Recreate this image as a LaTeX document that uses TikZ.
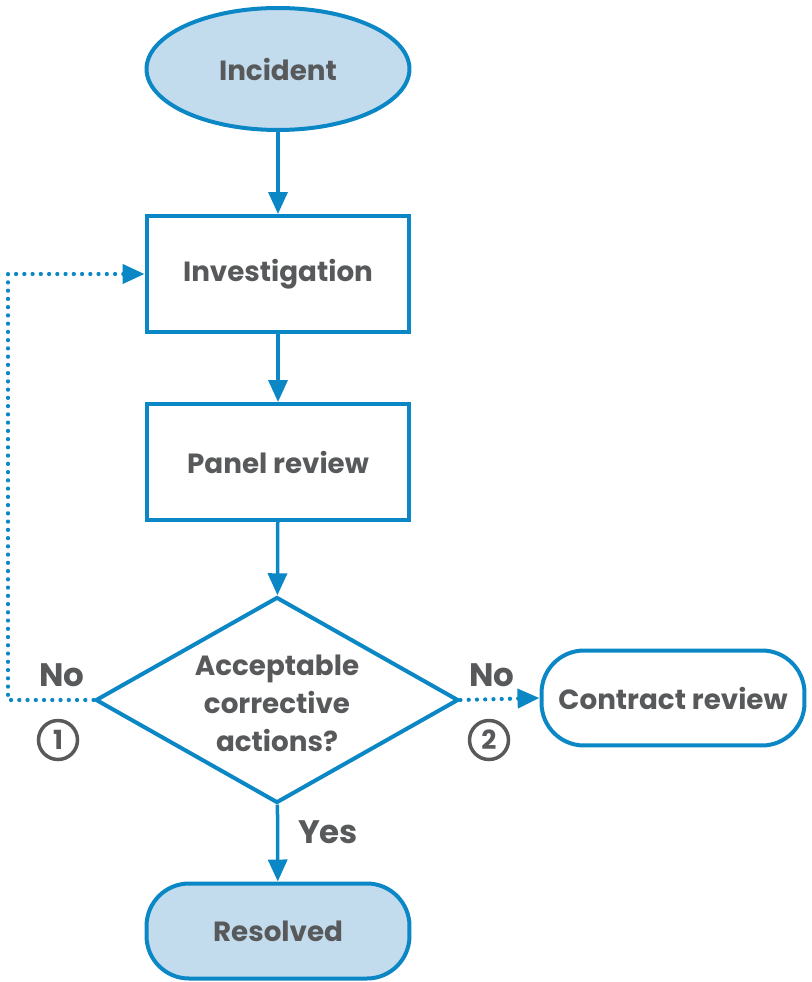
\documentclass[tikz,border=0pt]{standalone}
\usepackage{fontspec}
\setmainfont{Poppins}
\usetikzlibrary{arrows.meta, shapes.geometric, positioning}
\definecolor{flowblue}{HTML}{0A87C4}
\definecolor{flowfill}{HTML}{C2DCEE}
\definecolor{flowtext}{HTML}{58595B}
\tikzset{
    flowfont/.style={text=flowtext, font=\fontsize{15.8}{21.5}\selectfont\bfseries},
    box/.style={flowfont, draw=flowblue, line width=0.08cm, inner sep=0pt,
        minimum width=5.26cm, minimum height=2.32cm},
    terminal/.style={box, ellipse, fill=flowfill, minimum height=2.44cm},
    endbox/.style={box, rounded corners=0.85cm, minimum height=1.9cm},
    decision/.style={box, diamond, aspect=1.76, align=center,
        minimum width=7.26cm, minimum height=4.12cm},
    flow/.style={draw=flowblue, line width=0.07cm,
        -{Triangle[length=0.44cm, width=0.38cm]}},
    loop/.style={flow, line cap=round, line width=0.085cm,
        dash pattern=on 0pt off 0.165cm},
    branch/.style={flowfont, font=\fontsize{18.5}{20}\selectfont\bfseries},
    stepno/.style={circle, draw=flowtext, line width=0.07cm, text=flowtext,
        font=\fontsize{15}{15}\selectfont\bfseries, minimum size=0.78cm, inner sep=0pt}
}
\begin{document}
\begin{tikzpicture}[x=0.02cm, y=-0.02cm]
    \useasboundingbox (0,0) rectangle (811,982);
    % main column
    \node[terminal] (incident) at (278,69) {Incident};
    \node[box] (invest) at (278,274) {Investigation};
    \node[box] (panel) at (278,462) {Panel review};
    \node[decision] (accept) at (277,700) {\raisebox{-0.25cm}[0pt][0pt]{\begin{tabular}{@{}c@{}}Acceptable\\corrective\\actions?\end{tabular}}};
    \node[endbox, fill=flowfill] (resolved) at (278,931) {Resolved};
    \node[endbox] (contract) at (673,698) {Contract review};
    \coordinate (back) at (8,700);
    \draw[flow] (incident) -- (invest);
    \draw[flow] (invest) -- (panel);
    \draw[flow] (panel) -- (accept);
    \draw[flow] (accept) -- (resolved);
    % the two "No" branches
    \draw[loop] (accept.west) -- (back) |- (invest.west);
    \draw[loop] (accept.east) -- (contract.west);
    \node[branch] (noleft) at (62,675) {No};
    \node[branch] (noright) at (492,675) {No};
    \node[branch] (yes) at (328,832) {Yes};
    \node[stepno] (one) at (58,740) {1};
    \node[stepno] (two) at (489,740) {2};
\end{tikzpicture}
\end{document}
